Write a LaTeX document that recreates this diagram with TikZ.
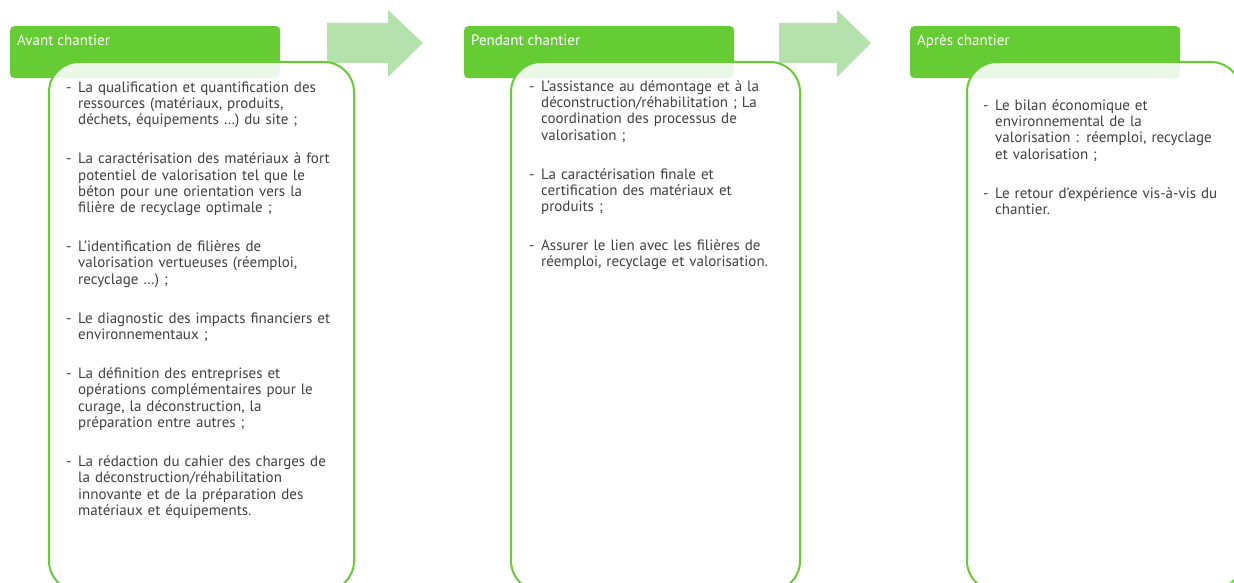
\documentclass[tikz,border=0pt]{standalone}
\usepackage{fontspec}
\setmainfont{PT Sans}

\definecolor{vert}{HTML}{66CC33}
\definecolor{vertclair}{HTML}{B5E1AD}
\definecolor{gristexte}{HTML}{404040}

% réglages des listes : interligne, fer à gauche
\newcommand{\miseenpage}{\setlength{\parskip}{22.7pt}\setlength{\rightskip}{0pt plus 1fil}\setlength{\parfillskip}{0pt plus 1fil}}
% puce avec tiret et retrait
\newcommand{\puce}[1]{\par\hangindent=12pt\hangafter=1\noindent\makebox[12pt][l]{-}#1\par}
% retour à la ligne sans fin de paragraphe
\newcommand{\nl}{\hfil\break}

\tikzset{
  entete/.style={fill=vert, rounded corners=4pt, minimum width=270pt, minimum height=52pt, anchor=north west, inner sep=0pt},
  cadre/.style={draw=vert, line width=2pt, fill=white, fill opacity=0.88, rounded corners=30pt, minimum height=529pt, anchor=north west, inner sep=0pt},
  titre/.style={text=white, font=\fontsize{15}{17}\selectfont, anchor=base west, inner sep=0pt},
  liste/.style={text=gristexte, text width=300pt, anchor=north west, inner sep=0pt, font=\fontsize{15}{16.3}\selectfont},
  fleche/.style={fill=vertclair}
}

\begin{document}
\begin{tikzpicture}[x=1pt, y=-1pt]
    \useasboundingbox (0,0) rectangle (1234,583);
    \clip (0,0) rectangle (1234,583);

    % Flèches
    \fill[fleche] (327,23) -- (388,23) -- (388,10) -- (423,43) -- (388,77) -- (388,63) -- (327,63) -- cycle;
    \fill[fleche] (779,23) -- (837,23) -- (837,10) -- (871,43) -- (837,77) -- (837,63) -- (779,63) -- cycle;

    % Avant chantier
    \node[entete] (enteteavant) at (10,26) {};
    \node[titre] (titreavant) at (17,46) {Avant chantier};
    \node[cadre, minimum width=305pt] (cadreavant) at (48,61) {};
    \node[liste] (listeavant) at (66,53) {\miseenpage
      \puce{La qualification et quantification des\nl ressources (matériaux, produits,\nl déchets, équipements …) du site ;}
      \puce{La caractérisation des matériaux à fort\nl potentiel de valorisation tel que le\nl béton pour une orientation vers la\nl filière de recyclage optimale ;}
      \puce{L’identification de filières de\nl valorisation vertueuses (réemploi,\nl recyclage …) ;}
      \puce{Le diagnostic des impacts financiers et\nl environnementaux ;}
      \puce{La définition des entreprises et\nl opérations complémentaires pour le\nl curage, la déconstruction, la\nl préparation entre autres ;}
      \puce{La rédaction du cahier des charges de\nl la déconstruction/réhabilitation\nl innovante et de la préparation des\nl matériaux et équipements.}};

    % Pendant chantier
    \node[entete] (entetependant) at (464,26) {};
    \node[titre] (titrependant) at (471,46) {Pendant chantier};
    \node[cadre, minimum width=289pt] (cadrependant) at (510,61) {};
    \node[liste] (listependant) at (529,52) {\miseenpage
      \puce{L’assistance au démontage et à la\nl déconstruction/réhabilitation ; La\nl coordination des processus de\nl valorisation ;}
      \puce{La caractérisation finale et\nl certification des matériaux et\nl produits ;}
      \puce{Assurer le lien avec les filières de\nl réemploi, recyclage et valorisation.}};

    % Après chantier
    \node[entete] (enteteapres) at (910,26) {};
    \node[titre] (titreapres) at (917,46) {Après chantier};
    \node[cadre, minimum width=274pt] (cadreapres) at (966,61) {};
    \node[liste] (listeapres) at (983,71) {\miseenpage
      \puce{Le bilan économique et\nl environnemental de la\nl valorisation : réemploi, recyclage\nl et valorisation ;}
      \puce{Le retour d’expérience vis-à-vis du\nl chantier.}};

  \end{tikzpicture}
\end{document}
